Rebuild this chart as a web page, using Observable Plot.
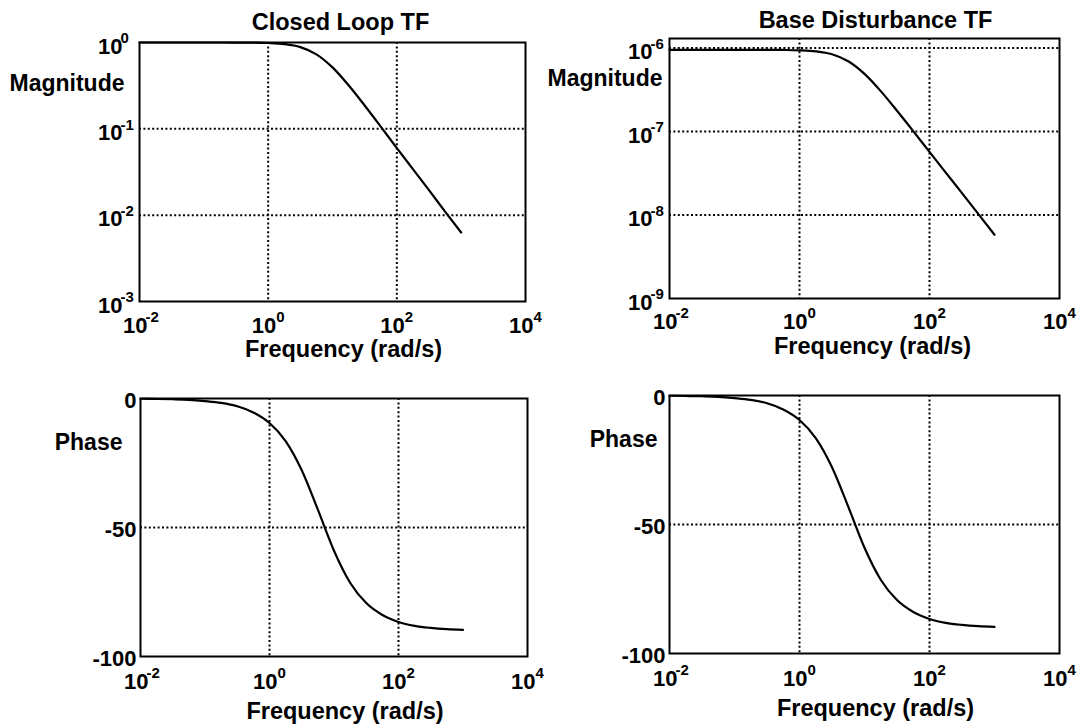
<!DOCTYPE html>
<html><head><meta charset="utf-8">
<script src="https://cdn.jsdelivr.net/npm/d3@7"></script>
<script src="https://cdn.jsdelivr.net/npm/@observablehq/plot@0.6"></script>
<style>
html,body{margin:0;padding:0;background:#fff;}
#chart{position:relative;width:1080px;height:724px;background:#fff;overflow:hidden;}
#chart svg{position:absolute;}
</style></head><body><div id="chart"></div>
<script>
// ---- data ----
const freqs = [0.01, 0.01778, 0.03162, 0.05623, 0.1, 0.1778, 0.3162, 0.5623, 1, 1.778, 3.162, 5.623, 10, 17.78, 31.62, 56.23, 100, 177.8, 316.2, 562.3, 1000];
const closedLoopMag = [1.0, 1.0, 1.0, 1.0, 0.9999, 0.9996, 0.9986, 0.9956, 0.9864, 0.9588, 0.8847, 0.7297, 0.5145, 0.3197, 0.1864, 0.1061, 0.0599, 0.0342, 0.0195, 0.0110, 0.0063];
const closedLoopPhase = [-0.1, -0.2, -0.3, -0.5, -1.0, -1.7, -3.0, -5.4, -9.5, -16.5, -27.8, -43.1, -59.0, -71.4, -79.3, -83.9, -86.6, -88.1, -88.9, -89.4, -89.7];
const baseDistMag = [9.5e-7, 9.5e-7, 9.5e-7, 9.5e-7, 9.5e-7, 9.5e-7, 9.49e-7, 9.46e-7, 9.37e-7, 9.11e-7, 8.40e-7, 6.93e-7, 4.89e-7, 3.04e-7, 1.77e-7, 1.01e-7, 5.69e-8, 3.22e-8, 1.83e-8, 1.03e-8, 5.8e-9];
const baseDistPhase = [-0.1, -0.2, -0.3, -0.5, -1.0, -1.7, -3.0, -5.4, -9.5, -16.5, -27.8, -43.1, -59.0, -71.4, -79.3, -83.9, -86.6, -88.1, -88.9, -89.4, -89.7];
const xTickExps = [-2, 0, 2, 4];
const clMagTickExps = [0, -1, -2, -3];
const bdMagTickExps = [-6, -7, -8, -9];
const phaseTicks = [0, -50, -100];
const titles = ["Closed Loop TF", "Base Disturbance TF"];
const yTitles = ["Magnitude", "Phase"];
const xTitle = "Frequency (rad/s)";

const FONT = "Liberation Sans, Arial, Helvetica, sans-serif";
const GRID = {stroke: "#000", strokeWidth: 2, strokeDasharray: "2,2.4"};
const BASE = 22, SUP = 15, LABEL = 23.5;

function panel(c) {
  const data = freqs.map((f, i) => ({f, v: c.values[i]}));
  const y0 = c.yDomain[0];
  const neg = xTickExps.filter(e => e < 0), pos = xTickExps.filter(e => e >= 0);
  const marks = [
    Plot.ruleX([1, 100], GRID),
    Plot.ruleY(c.gridY, GRID),
    Plot.frame({stroke: "#000", strokeWidth: 2}),
    Plot.line(data, {x: "f", y: "v", stroke: "#000", strokeWidth: 2.2, curve: "monotone-x"}),
    // x tick labels: base "10" + superscript exponent
    Plot.text(xTickExps, {x: e => 10 ** e, y: () => y0, text: () => "10", textAnchor: "end", lineAnchor: "middle", dx: 8, dy: c.xLabDy, fontSize: BASE, fontWeight: "bold"}),
    Plot.text(neg, {x: e => 10 ** e, y: () => y0, text: e => String(e), textAnchor: "start", lineAnchor: "middle", dx: 6, dy: c.xLabDy - 8, fontSize: SUP, fontWeight: "bold"}),
    Plot.text(pos, {x: e => 10 ** e, y: () => y0, text: e => String(e), textAnchor: "start", lineAnchor: "middle", dx: 8, dy: c.xLabDy - 8, fontSize: SUP, fontWeight: "bold"}),
    // x title
    Plot.text([xTitle], {frameAnchor: "bottom", lineAnchor: "middle", dx: c.xTitleDx, dy: c.xTitleDy, fontSize: LABEL, fontWeight: "bold"}),
    // y title
    Plot.text([c.yTitle], {frameAnchor: "top-left", textAnchor: "end", lineAnchor: "middle", dx: c.yTitleDx, dy: c.yTitleDy, fontSize: 23, fontWeight: "bold"})
  ];
  if (c.logY) {
    marks.push(Plot.text(c.yTicks, {x: () => 0.01, y: e => 10 ** e, text: () => "10", textAnchor: "end", lineAnchor: "middle", dx: -17, dy: 4, fontSize: BASE, fontWeight: "bold"}));
    marks.push(Plot.text(c.yTicks, {x: () => 0.01, y: e => 10 ** e, text: e => String(e), textAnchor: "start", lineAnchor: "middle", dx: -19, dy: -4, fontSize: SUP, fontWeight: "bold"}));
  } else {
    marks.push(Plot.text(c.yTicks, {x: () => 0.01, y: v => v, text: v => String(v), textAnchor: "end", lineAnchor: "middle", dx: -4, dy: v => 0, fontSize: BASE, fontWeight: "bold"}));
    marks[marks.length - 1] = Plot.text(c.yTicks, {x: () => 0.01, y: v => v, text: v => String(v), textAnchor: "end", lineAnchor: "middle", dx: -4, dy: 2, fontSize: BASE, fontWeight: "bold"});
  }
  if (c.title) {
    marks.push(Plot.text([c.title], {frameAnchor: "top", lineAnchor: "middle", dx: c.titleDx, dy: c.titleDy, fontSize: LABEL, fontWeight: "bold"}));
  }
  const svg = Plot.plot({
    width: 540, height: 362,
    marginLeft: c.m[0], marginRight: c.m[1], marginTop: c.m[2], marginBottom: c.m[3],
    x: {type: "log", domain: [1e-2, 1e4], axis: null},
    y: c.logY ? {type: "log", domain: c.yDomain, axis: null} : {type: "linear", domain: c.yDomain, axis: null},
    style: {fontFamily: FONT, background: "transparent", overflow: "visible", color: "#000"},
    marks
  });
  svg.style.left = c.pos[0] + "px";
  svg.style.top = c.pos[1] + "px";
  document.getElementById("chart").appendChild(svg);
}

panel({pos: [0, 0], m: [139, 15, 42, 61], logY: true, yDomain: [1e-3, 1], values: closedLoopMag,
  gridY: [1e-1, 1e-2], yTicks: clMagTickExps, title: titles[0], titleDx: 8, titleDy: -20,
  yTitle: yTitles[0], yTitleDx: -15, yTitleDy: 41, xLabDy: 24, xTitleDx: 11, xTitleDy: 48});
panel({pos: [540, 0], m: [129, 21, 38, 64], logY: true, yDomain: [1e-9, 10 ** -5.887], values: baseDistMag,
  gridY: [1e-6, 1e-7, 1e-8], yTicks: bdMagTickExps, title: titles[1], titleDx: 11, titleDy: -18,
  yTitle: yTitles[0], yTitleDx: -7, yTitleDy: 40, xLabDy: 23, xTitleDx: 8, xTitleDy: 48});
panel({pos: [0, 362], m: [140, 13, 36, 68], logY: false, yDomain: [-100, 0], values: closedLoopPhase,
  gridY: [-50], yTicks: phaseTicks,
  yTitle: yTitles[1], yTitleDx: -18, yTitleDy: 44, xLabDy: 25, xTitleDx: 11, xTitleDy: 55});
panel({pos: [540, 362], m: [129, 21, 33, 71], logY: false, yDomain: [-100, 0], values: baseDistPhase,
  gridY: [-50], yTicks: phaseTicks,
  yTitle: yTitles[1], yTitleDx: -12, yTitleDy: 44, xLabDy: 25, xTitleDx: 11, xTitleDy: 55});
</script></body></html>
